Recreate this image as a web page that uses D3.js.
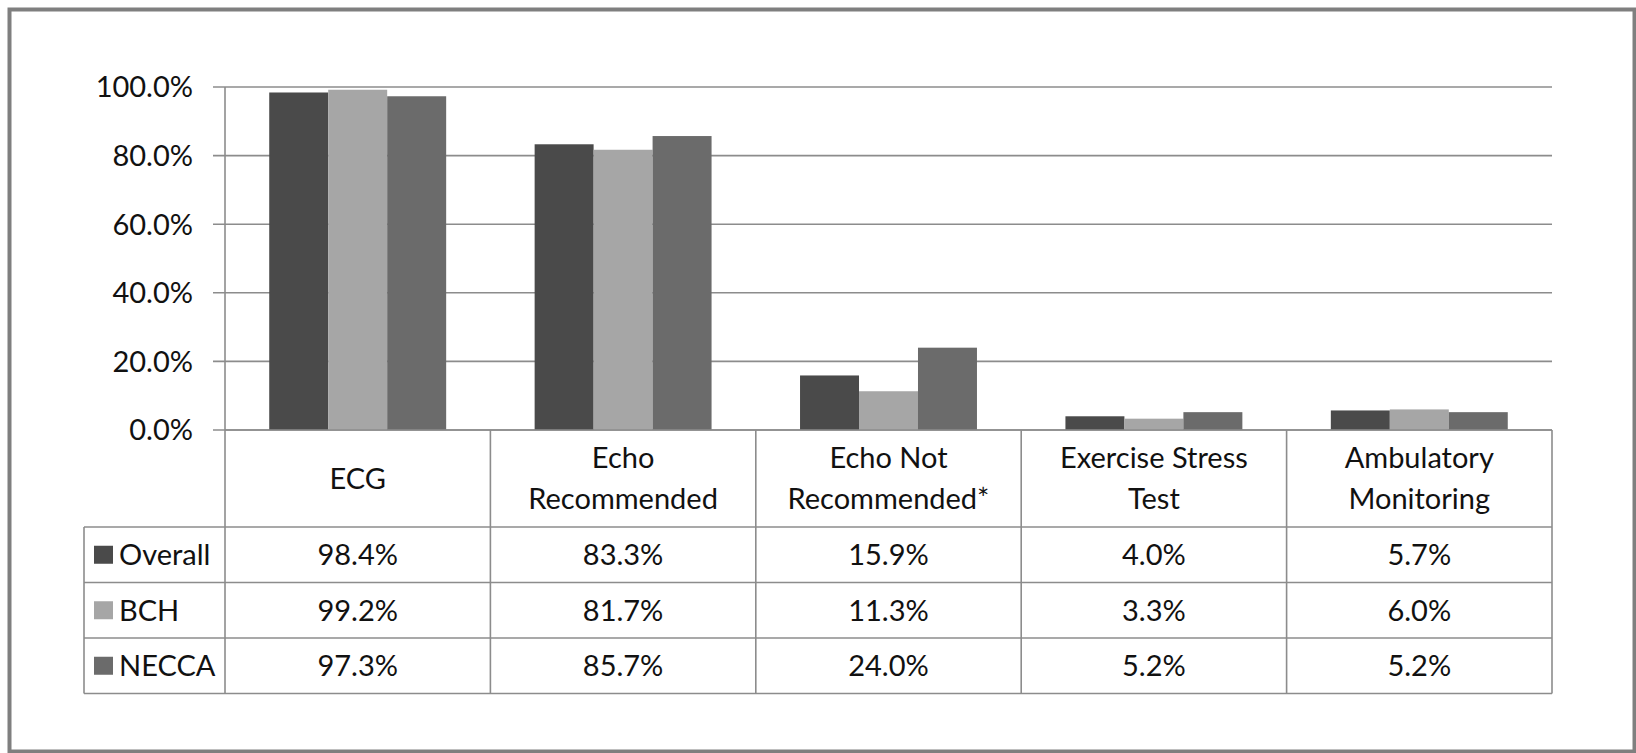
<!DOCTYPE html>
<html>
<head>
<meta charset="utf-8">
<script src="https://cdn.jsdelivr.net/npm/d3@7"></script>
<style>
  html, body { margin: 0; padding: 0; background: #ffffff; }
  svg { display: block; }
  text { font-family: Lato, "Open Sans", "Noto Sans", sans-serif; fill: #111; }
</style>
</head>
<body>
<svg id="chart" width="1636" height="753"></svg>
<script>
// ---- data ----
const categories = [["ECG"], ["Echo", "Recommended"], ["Echo Not", "Recommended*"], ["Exercise Stress", "Test"], ["Ambulatory", "Monitoring"]];
const seriesNames = ["Overall", "BCH", "NECCA"];
const overall = [98.4, 83.3, 15.9, 4.0, 5.7];
const bch = [99.2, 81.7, 11.3, 3.3, 6.0];
const necca = [97.3, 85.7, 24.0, 5.2, 5.2];
const yTicks = [0, 0.2, 0.4, 0.6, 0.8, 1.0];
const seriesColors = ["#4a4a4a", "#a6a6a6", "#6b6b6b"];

const seriesValues = [overall, bch, necca];
const catKeys = categories.map(c => c.join(" "));

const svg = d3.select("#chart");
const W = 1636, H = 753;
svg.append("rect").attr("width", W).attr("height", H).attr("fill", "#fff");

// outer frame
svg.append("rect")
  .attr("x", 9.5).attr("y", 9.5)
  .attr("width", 1625).attr("height", 742)
  .attr("fill", "none").attr("stroke", "#7f7f7f").attr("stroke-width", 4);

const plotLeft = 225, plotRight = 1552, plotTop = 87, plotBottom = 430;
const gridColor = "#8c8c8c";

const x0 = d3.scaleBand().domain(catKeys).range([plotLeft, plotRight]).paddingInner(0).paddingOuter(0);
const x1 = d3.scaleBand().domain(seriesNames).range([0, x0.bandwidth()]).paddingInner(0).paddingOuter(0.75);
const y = d3.scaleLinear().domain([0, 1]).range([plotBottom, plotTop]);
const fmt = d3.format(".1%");

// gridlines
svg.append("g").selectAll("line").data(yTicks).join("line")
  .attr("x1", plotLeft - 12).attr("x2", plotRight)
  .attr("y1", d => y(d)).attr("y2", d => y(d))
  .attr("stroke", gridColor).attr("stroke-width", 1.6);

// y axis line
svg.append("line").attr("x1", plotLeft).attr("x2", plotLeft)
  .attr("y1", plotTop).attr("y2", plotBottom)
  .attr("stroke", gridColor).attr("stroke-width", 1.6);

// y labels
svg.append("g").selectAll("text").data(yTicks).join("text")
  .attr("x", 193).attr("y", d => y(d)).attr("dy", "0.36em")
  .attr("text-anchor", "end").attr("font-size", 29)
  .text(d => fmt(d));

// bars
const barG = svg.append("g");
seriesNames.forEach((s, si) => {
  barG.append("g").selectAll("rect").data(seriesValues[si]).join("rect")
    .attr("x", (d, i) => x0(catKeys[i]) + x1(s))
    .attr("width", x1.bandwidth())
    .attr("y", d => y(d / 100))
    .attr("height", d => plotBottom - y(d / 100))
    .attr("fill", seriesColors[si]);
});

// data table
const headerBottom = 527;
const rowH = 55.5;
const tableLeft = 84;
const rowTops = seriesNames.map((s, i) => headerBottom + i * rowH);
const tableBottom = headerBottom + 3 * rowH;
const tg = svg.append("g");
const lineAttrs = sel => sel.attr("stroke", gridColor).attr("stroke-width", 1.6);

// horizontal lines
tg.append("line").attr("x1", plotLeft).attr("x2", plotRight).attr("y1", plotBottom).attr("y2", plotBottom).call(lineAttrs);
[headerBottom, ...rowTops.slice(1), tableBottom].forEach(yy => {
  tg.append("line").attr("x1", tableLeft).attr("x2", plotRight).attr("y1", yy).attr("y2", yy).call(lineAttrs);
});
// vertical lines
tg.append("line").attr("x1", tableLeft).attr("x2", tableLeft).attr("y1", headerBottom).attr("y2", tableBottom).call(lineAttrs);
const colEdges = catKeys.map(k => x0(k)).concat([plotRight]);
colEdges.forEach(xx => {
  tg.append("line").attr("x1", xx).attr("x2", xx).attr("y1", plotBottom).attr("y2", tableBottom).call(lineAttrs);
});

// header text
categories.forEach((lines, i) => {
  const cx = x0(catKeys[i]) + x0.bandwidth() / 2;
  const cy = (plotBottom + headerBottom) / 2;
  const lh = 41;
  lines.forEach((ln, j) => {
    tg.append("text")
      .attr("x", cx)
      .attr("y", cy + (j - (lines.length - 1) / 2) * lh)
      .attr("dy", "0.36em")
      .attr("text-anchor", "middle").attr("font-size", 29)
      .text(ln);
  });
});

// rows
seriesNames.forEach((s, si) => {
  const cy = rowTops[si] + rowH / 2;
  tg.append("rect").attr("x", 94).attr("y", cy - 9).attr("width", 19).attr("height", 18).attr("fill", seriesColors[si]);
  tg.append("text").attr("x", 119).attr("y", cy).attr("dy", "0.36em")
    .attr("font-size", 29).text(s);
  seriesValues[si].forEach((v, i) => {
    tg.append("text")
      .attr("x", x0(catKeys[i]) + x0.bandwidth() / 2)
      .attr("y", cy).attr("dy", "0.36em")
      .attr("text-anchor", "middle").attr("font-size", 29)
      .text(v.toFixed(1) + "%");
  });
});
</script>
</body>
</html>
